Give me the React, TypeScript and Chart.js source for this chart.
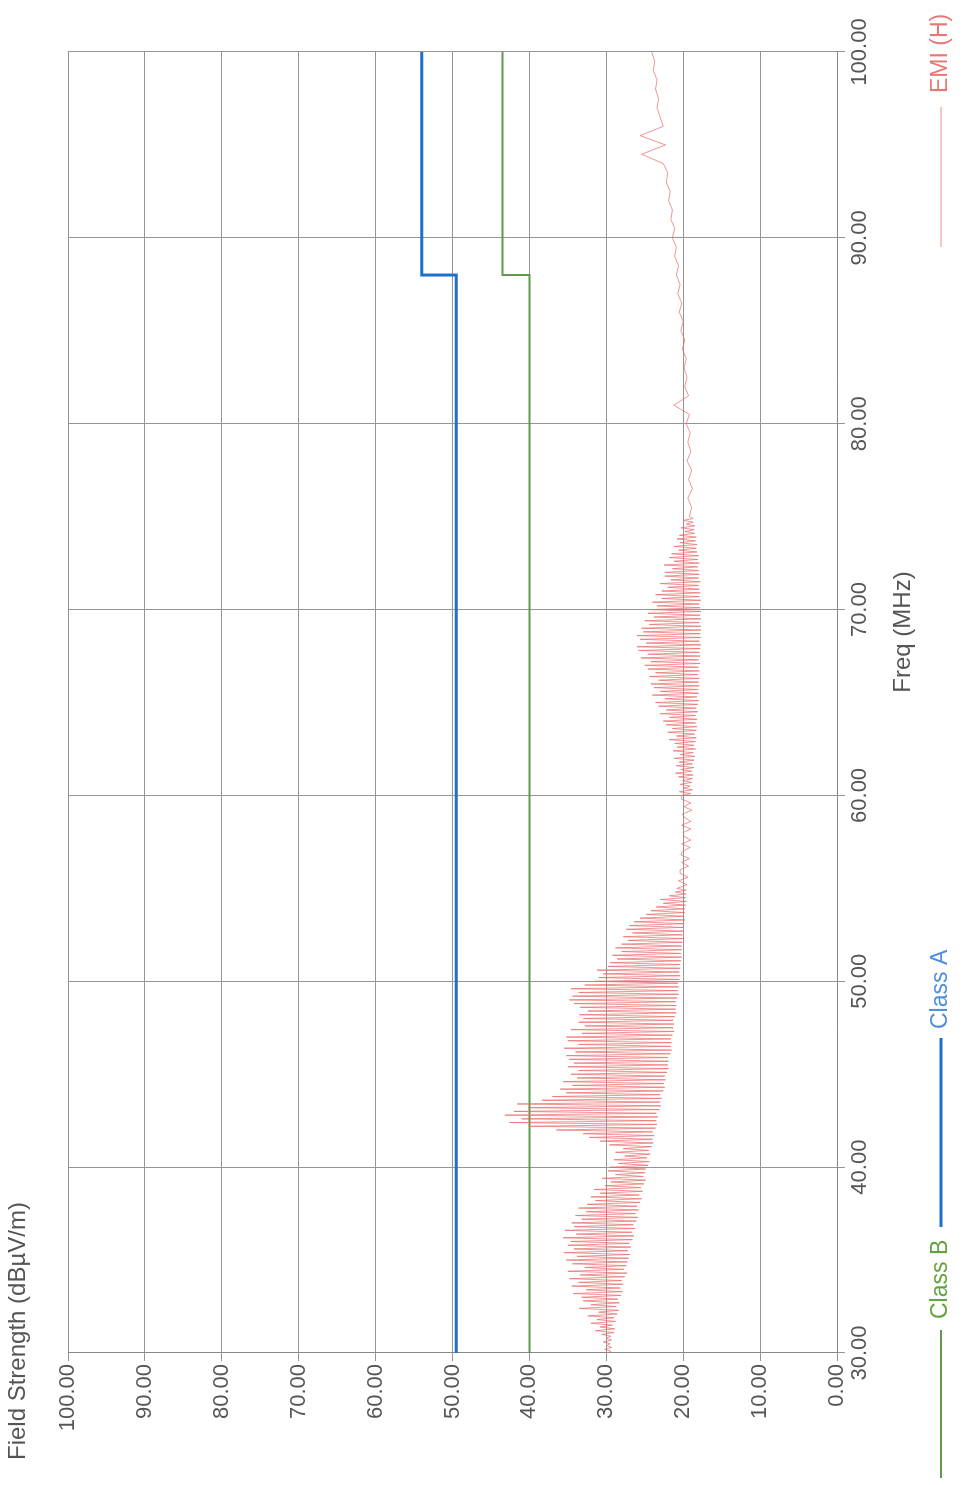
import React, { useEffect, useRef } from "react";
import { Chart, registerables } from "chart.js";

Chart.register(...registerables);

// Frequency axis (MHz) and field-strength axis (dBµV/m)
const freqTicks = [30, 40, 50, 60, 70, 80, 90, 100];
const levelTicks = [0, 10, 20, 30, 40, 50, 60, 70, 80, 90, 100];

// Limit lines
const classAFreq = [30, 88, 88, 100];
const classALevel = [49.5, 49.5, 54, 54];
const classBFreq = [30, 88, 88, 100];
const classBLevel = [40, 40, 43.5, 43.5];

// EMI (H) scan, 30.0 – 54.9 MHz, 0.1 MHz steps (one row per MHz)
const emiAStart = 30;
const emiAStep = 0.1;
const emiA = [
  29.8, 29.4, 30.2, 29.3, 29.9, 29.5, 30.4, 29.3, 30.0, 29.4,
  30.6, 29.0, 31.4, 28.9, 30.8, 29.2, 32.0, 28.8, 31.2, 29.0,
  32.4, 28.6, 31.0, 28.4, 33.5, 28.7, 32.0, 28.3, 33.0, 28.5,
  33.2, 28.1, 34.3, 27.9, 32.6, 28.2, 34.5, 27.8, 33.6, 28.0,
  34.8, 27.6, 33.4, 27.3, 35.0, 27.7, 32.8, 27.4, 34.4, 27.3,
  35.2, 27.1, 33.8, 26.9, 35.5, 27.2, 34.2, 26.8, 35.0, 27.0,
  34.6, 26.6, 35.6, 26.4, 33.9, 26.7, 35.4, 26.3, 34.2, 26.5,
  34.5, 26.1, 33.2, 25.9, 34.0, 26.2, 32.6, 25.8, 33.6, 26.0,
  32.5, 25.6, 31.4, 25.4, 32.0, 25.7, 30.8, 25.3, 31.6, 25.5,
  30.2, 25.1, 29.4, 24.9, 30.5, 25.2, 28.8, 25.0, 29.8, 24.9,
  29.5, 24.6, 28.4, 24.4, 29.0, 24.7, 27.6, 24.3, 28.8, 24.5,
  27.8, 24.1, 29.6, 23.9, 30.8, 24.0, 32.2, 23.8, 33.0, 24.0,
  36.5, 23.6, 39.8, 23.4, 42.6, 23.5, 41.0, 23.3, 43.2, 23.5,
  42.0, 23.1, 40.2, 22.9, 41.6, 23.0, 38.4, 22.8, 37.0, 23.0,
  35.2, 22.6, 36.0, 22.4, 34.4, 22.5, 35.6, 22.3, 33.8, 22.4,
  34.6, 22.1, 33.6, 21.9, 35.0, 22.0, 34.2, 21.9, 34.8, 22.0,
  35.2, 21.7, 34.0, 21.5, 35.5, 21.6, 33.6, 21.5, 35.0, 21.6,
  35.2, 21.4, 33.2, 21.2, 34.6, 21.3, 32.8, 21.2, 33.6, 21.3,
  33.0, 21.1, 33.5, 20.9, 32.4, 21.0, 33.4, 20.9, 34.2, 21.0,
  34.8, 20.8, 34.4, 20.6, 33.6, 20.7, 34.6, 20.6, 32.8, 20.7,
  31.5, 20.5, 31.0, 20.4, 30.4, 20.5, 31.2, 20.4, 29.8, 20.4,
  29.5, 20.3, 28.6, 20.2, 29.2, 20.3, 28.0, 20.2, 28.8, 20.2,
  28.0, 20.1, 27.2, 20.0, 27.8, 20.1, 26.6, 20.0, 27.4, 20.0,
  27.0, 19.9, 26.4, 19.8, 25.6, 19.9, 24.8, 19.8, 24.2, 19.8,
  23.5, 19.7, 22.6, 19.6, 23.0, 19.7, 21.8, 19.6, 21.0, 19.6,
];

// EMI (H) scan, 55.0 – 59.8 MHz, 0.2 MHz steps
const emiBStart = 55;
const emiBStep = 0.2;
const emiB = [
  20.8, 19.5, 20.6, 19.4, 20.4,
  20.4, 19.3, 20.2, 19.2, 20.3,
  20.1, 19.1, 20.2, 19.0, 19.9,
  20.0, 19.0, 20.2, 19.0, 19.8,
  20.1, 18.9, 19.9, 19.0, 20.2,
];

// EMI (H) scan, 60.0 – 74.9 MHz, 0.1 MHz steps
const emiCStart = 60;
const emiCStep = 0.1;
const emiC = [
  20.2, 19.0, 20.5, 18.8, 19.9, 19.1, 20.4, 18.9, 20.1, 18.8,
  20.6, 18.7, 21.0, 18.9, 20.3, 18.6, 20.9, 18.8, 20.5, 18.6,
  21.2, 18.5, 20.4, 18.7, 21.3, 18.4, 20.8, 18.6, 21.1, 18.4,
  21.8, 18.3, 20.9, 18.5, 22.0, 18.3, 21.4, 18.2, 22.2, 18.4,
  22.6, 18.2, 21.8, 18.4, 23.0, 18.1, 22.2, 18.3, 23.2, 18.1,
  23.6, 18.0, 22.4, 18.2, 24.0, 18.0, 23.0, 18.1, 23.8, 17.9,
  24.2, 18.0, 23.2, 17.9, 24.4, 18.1, 23.6, 17.9, 24.6, 18.0,
  25.0, 17.8, 24.2, 18.0, 25.5, 17.8, 24.6, 17.9, 25.8, 17.8,
  26.0, 17.7, 24.8, 17.9, 25.6, 17.7, 26.0, 17.8, 25.2, 17.7,
  25.4, 17.7, 24.4, 17.9, 25.0, 17.7, 23.8, 17.8, 24.6, 17.7,
  24.2, 17.8, 23.4, 17.9, 24.0, 17.7, 22.8, 17.9, 23.6, 17.8,
  22.8, 17.9, 22.0, 18.0, 23.0, 17.8, 21.6, 18.0, 22.4, 17.9,
  22.4, 18.0, 21.4, 18.1, 22.5, 17.9, 21.2, 18.1, 21.8, 18.0,
  21.5, 18.2, 20.6, 18.3, 21.2, 18.2, 20.4, 18.4, 20.8, 18.3,
  20.5, 18.5, 19.8, 18.6, 20.3, 18.5, 19.6, 18.7, 20.0, 18.7,
];

// EMI (H) scan, 75.0 – 100.0 MHz, 0.5 MHz steps
const emiDStart = 75;
const emiDStep = 0.5;
const emiD = [
  19.2,
  18.9, 19.4, 18.8, 19.3, 18.9, 19.5, 19.0, 19.4, 19.1, 19.6,
  19.2, 21.2, 19.3, 19.8, 19.5, 19.9, 19.6, 20.1, 19.8, 20.3,
  20.0, 20.5, 20.2, 20.7, 20.4, 20.9, 20.6, 21.1, 20.9, 21.4,
  21.1, 21.6, 21.4, 21.9, 21.7, 22.2, 22.0, 22.6, 25.4, 22.3,
  25.6, 22.6, 23.0, 23.4, 23.2, 23.6, 23.4, 23.9, 23.7, 24.1,
];

const seriesNames = ["Class B", "Class A", "EMI (H)"];
const lineColors = ["#5f9a4c", "#1f6fcf", "rgba(234,108,108,0.72)"];
const textColors = ["#62a33c", "#4f8de0", "#ec7676"];
const yTitle = "Field Strength (dBµV/m)";
const xTitle = "Freq (MHz)";

const W = 1485;
const H = 964;
const FONT = "'Liberation Sans', Arial, sans-serif";

function buildEmi() {
  const pts: { x: number; y: number }[] = [];
  const add = (arr: number[], start: number, step: number) =>
    arr.forEach((v, i) => pts.push({ x: +(start + i * step).toFixed(2), y: v }));
  add(emiA, emiAStart, emiAStep);
  add(emiB, emiBStart, emiBStep);
  add(emiC, emiCStart, emiCStep);
  add(emiD, emiDStart, emiDStep);
  return pts;
}

const overlay = {
  id: "overlay",
  afterDraw(chart: any) {
    const ctx = chart.ctx;
    ctx.save();
    ctx.fillStyle = "#555";
    ctx.font = `24px ${FONT}`;
    ctx.textBaseline = "middle";
    ctx.textAlign = "left";
    ctx.fillText(yTitle, 25, 18);
    ctx.textAlign = "center";
    ctx.fillText(xTitle, 853, 903);

    // legend
    const ly = 941;
    ctx.font = `23px ${FONT}`;
    const items = [
      { x0: 7, x1: 155, tx: 166, w: 2, c: lineColors[0], tc: textColors[0], t: seriesNames[0] },
      { x0: 258, x1: 447, tx: 456, w: 3, c: lineColors[1], tc: textColors[1], t: seriesNames[1] },
      { x0: 1238, x1: 1378, tx: 1392, w: 1, c: "#ef8a8a", tc: textColors[2], t: seriesNames[2] },
    ];
    ctx.textAlign = "left";
    items.forEach((it) => {
      ctx.strokeStyle = it.c;
      ctx.lineWidth = it.w;
      ctx.beginPath();
      ctx.moveTo(it.x0, ly);
      ctx.lineTo(it.x1, ly);
      ctx.stroke();
      ctx.fillStyle = it.tc;
      ctx.fillText(it.t, it.tx, ly);
    });
    ctx.restore();
  },
};

export default function App() {
  const ref = useRef<HTMLCanvasElement | null>(null);
  useEffect(() => {
    if (!ref.current) return;
    const tickFont = { family: FONT, size: 22 };
    const chart = new Chart(ref.current, {
      type: "line",
      data: {
        datasets: [
          {
            label: seriesNames[2],
            data: buildEmi(),
            borderColor: lineColors[2],
            borderWidth: 1,
            pointRadius: 0,
            tension: 0,
            order: 0,
          },
          {
            label: seriesNames[1],
            data: classAFreq.map((f, i) => ({ x: f, y: classALevel[i] })),
            borderColor: lineColors[1],
            borderWidth: 3,
            pointRadius: 0,
            tension: 0,
            order: 1,
          },
          {
            label: seriesNames[0],
            data: classBFreq.map((f, i) => ({ x: f, y: classBLevel[i] })),
            borderColor: lineColors[0],
            borderWidth: 2,
            pointRadius: 0,
            tension: 0,
            order: 2,
          },
        ],
      },
      options: {
        animation: false,
        responsive: false,
        maintainAspectRatio: false,
        layout: { padding: { top: 68, right: 52, left: 0, bottom: 0 } },
        plugins: { legend: { display: false }, title: { display: false }, tooltip: { enabled: false } },
        scales: {
          x: {
            type: "linear",
            min: freqTicks[0],
            max: freqTicks[freqTicks.length - 1],
            afterBuildTicks: (s: any) => { s.ticks = freqTicks.map((v) => ({ value: v })); },
            ticks: { font: tickFont, color: "#555", padding: 2, maxRotation: 0, callback: (v: any) => Number(v).toFixed(2) },
            grid: { color: "#959595", lineWidth: 1, tickLength: 8 },
            border: { color: "#888", width: 1 },
            afterFit: (s: any) => { s.height = 127; },
          },
          y: {
            type: "linear",
            min: levelTicks[0],
            max: levelTicks[levelTicks.length - 1],
            afterBuildTicks: (s: any) => { s.ticks = levelTicks.map((v) => ({ value: v })); },
            ticks: { font: tickFont, color: "#555", padding: 3, callback: (v: any) => Number(v).toFixed(2) },
            grid: { color: "#959595", lineWidth: 1, tickLength: 8 },
            border: { color: "#888", width: 1 },
            afterFit: (s: any) => { s.width = 132; },
          },
        },
      },
      plugins: [overlay],
    } as any);
    return () => chart.destroy();
  }, []);

  return (
    <div style={{ position: "absolute", left: 0, top: 0, width: 964, height: 1485, overflow: "hidden", background: "#fff" }}>
      <div
        style={{
          position: "absolute",
          left: 0,
          top: 0,
          width: W,
          height: H,
          transformOrigin: "0 0",
          transform: `translate(0px, ${W}px) rotate(-90deg)`,
        }}
      >
        <canvas ref={ref} width={W} height={H} style={{ width: W, height: H, display: "block" }} />
      </div>
    </div>
  );
}
